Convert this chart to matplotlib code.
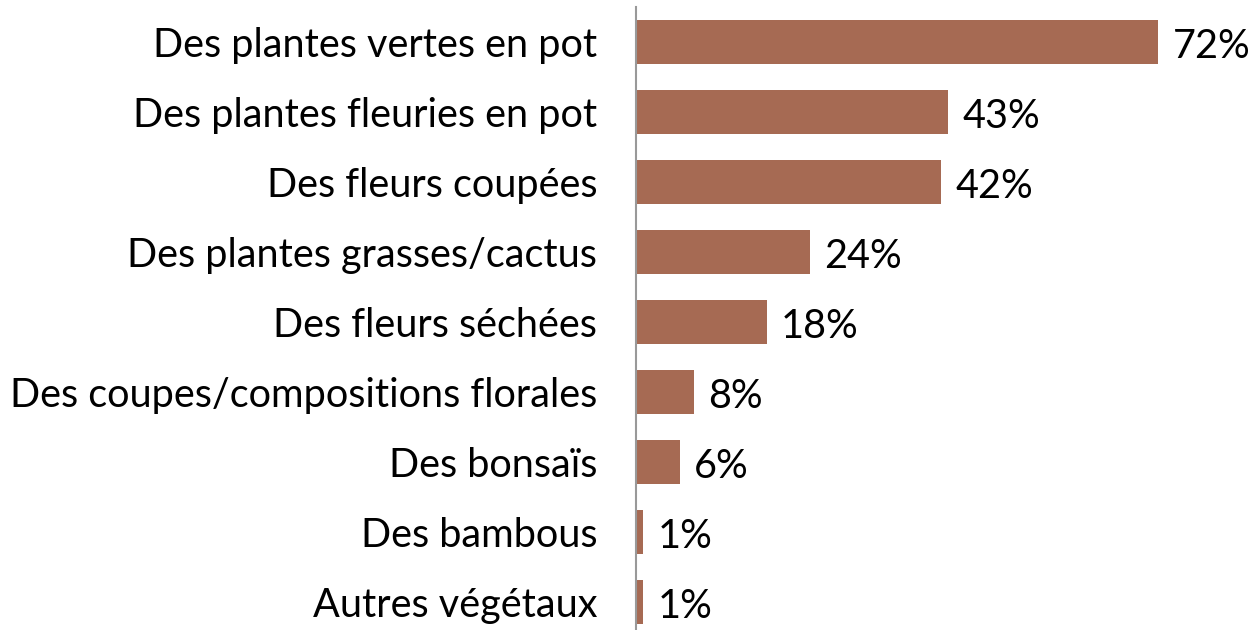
import matplotlib.pyplot as plt

categories = [
    "Des plantes vertes en pot",
    "Des plantes fleuries en pot",
    "Des fleurs coupées",
    "Des plantes grasses/cactus",
    "Des fleurs séchées",
    "Des coupes/compositions florales",
    "Des bonsaïs",
    "Des bambous",
    "Autres végétaux",
]
values = [72, 43, 42, 24, 18, 8, 6, 1, 1]
labels = ["72%", "43%", "42%", "24%", "18%", "8%", "6%", "1%", "1%"]

plt.rcParams['font.family'] = ['Lato', 'DejaVu Sans']

fig = plt.figure(figsize=(12.56, 6.3), dpi=100)
# axes position in figure fraction (left edge at the vertical axis line)
ax = fig.add_axes([636 / 1256, -7 / 630, 620 / 1256, 630 / 630])

y = list(range(len(categories)))
ax.barh(y, values, height=0.62, color='#A66A53')
ax.set_ylim(len(categories) - 0.5, -0.5)
ax.set_xlim(0, 620 / 7.25)

for yi, v, lab in zip(y, values, labels):
    ax.text(v + 2.0, yi + 0.06, lab, va='center', ha='left', fontsize=28.5, color='black')

ax.set_yticks(y)
ax.set_yticklabels(categories, fontsize=28.5)
for t in ax.get_yticklabels():
    t.set_y(t.get_position()[1])
ax.tick_params(axis='y', length=0, pad=28)
ax.set_xticks([])

for s in ['top', 'right', 'bottom']:
    ax.spines[s].set_visible(False)
ax.spines['left'].set_color('#999999')
ax.spines['left'].set_linewidth(1.5)

fig.savefig('out.png', dpi=100)
